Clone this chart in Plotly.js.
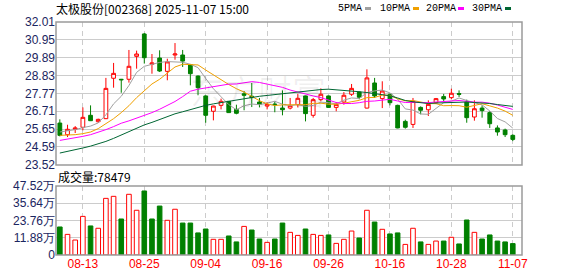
<!DOCTYPE html>
<html><head><meta charset="utf-8">
<script src="https://cdn.plot.ly/plotly-3.0.1.min.js"></script>
<style>html,body{margin:0;padding:0;background:#fff;}#c{width:578px;height:276px;}</style>
</head><body><div id="c"></div>
<script>
const dates = ["08-08","08-11","08-12","08-13","08-14","08-15","08-18","08-19","08-20","08-21","08-22","08-25","08-26","08-27","08-28","08-29",
"09-01","09-02","09-03","09-04","09-05","09-08","09-09","09-10","09-11","09-12","09-15","09-16","09-17","09-18","09-19","09-22","09-23","09-24","09-25","09-26","09-29","09-30",
"10-09","10-10","10-13","10-14","10-15","10-16","10-17","10-20","10-21","10-22","10-23","10-24","10-27","10-28","10-29","10-30","10-31",
"11-03","11-04","11-05","11-06","11-07"];
const openP = [26.01,25.32,25.64,25.76,26.47,26.09,26.27,28.67,28.61,28.61,29.97,31.30,29.50,29.87,29.08,30.05,30.05,29.48,28.80,27.62,26.71,27.06,27.30,26.82,27.75,27.60,27.26,27.02,27.14,26.90,26.90,27.10,27.62,26.47,27.40,27.62,26.94,27.26,27.72,27.85,26.90,28.39,27.46,27.72,27.06,26.11,25.93,26.94,26.80,27.22,27.58,27.52,27.76,27.26,26.37,26.90,26.63,25.72,25.60,25.28];
const highP = [26.23,25.91,25.83,26.94,27.06,26.27,28.69,29.58,28.63,30.35,30.31,31.36,30.11,30.33,29.83,30.76,30.35,29.52,28.84,27.66,27.04,27.46,27.32,27.10,27.91,28.39,27.50,27.26,27.28,27.95,27.50,27.75,27.64,27.50,28.07,27.64,27.26,27.85,28.33,27.89,29.20,28.69,28.49,27.76,27.10,26.21,27.50,27.00,27.36,27.50,27.74,28.05,27.95,27.40,27.36,27.06,26.71,25.87,25.68,25.34];
const lowP = [25.22,25.18,25.42,25.58,26.13,26.03,26.25,28.11,27.81,28.41,29.24,29.54,28.94,29.04,28.55,29.77,29.34,28.25,27.66,26.03,26.17,26.82,26.61,26.53,26.77,26.96,26.94,26.82,26.65,26.47,26.82,26.94,26.11,26.33,27.30,26.92,26.71,27.10,27.62,27.42,26.88,27.50,26.90,27.06,25.70,25.68,25.72,26.53,26.43,27.16,27.26,27.42,27.56,26.03,26.15,26.33,25.72,25.26,25.18,24.94];
const closeP = [25.28,25.64,25.72,26.35,26.15,26.23,28.07,28.96,28.58,29.38,30.11,29.89,29.58,29.10,29.64,30.11,29.69,28.94,28.11,26.47,27.02,27.30,26.63,26.59,27.66,27.52,27.12,27.12,27.10,26.80,27.06,27.48,26.57,27.40,27.72,26.94,27.12,27.66,28.07,27.54,28.69,27.62,27.91,27.22,25.72,25.76,27.30,26.77,27.12,27.46,27.44,27.78,27.72,26.33,26.86,26.75,25.97,25.48,25.32,25.04];
const ma5 = [25.48,25.54,25.62,25.74,25.83,26.02,26.50,27.15,27.60,28.24,29.02,29.38,29.51,29.61,29.66,29.66,29.62,29.50,29.30,28.66,28.05,27.57,27.11,26.80,27.04,27.14,27.10,27.20,27.30,27.13,27.04,27.11,27.00,27.06,27.25,27.22,27.15,27.37,27.50,27.47,27.82,27.92,27.97,27.80,27.43,26.85,26.78,26.55,26.53,26.88,27.22,27.31,27.50,27.35,27.23,27.09,26.73,26.28,26.08,25.71];
const ma10 = [25.28,25.28,25.32,25.38,25.48,25.68,25.97,26.27,26.63,27.04,27.52,27.94,28.33,28.61,28.95,29.34,29.50,29.50,29.46,29.16,28.86,28.60,28.30,28.05,27.85,27.59,27.34,27.15,27.05,27.09,27.09,27.11,27.10,27.18,27.19,27.13,27.13,27.19,27.28,27.36,27.52,27.53,27.67,27.65,27.45,27.33,27.35,27.26,27.17,27.16,27.04,27.05,27.04,26.95,27.06,27.16,27.03,26.90,26.72,26.47];
const ma20 = [24.98,25.05,25.13,25.22,25.32,25.45,25.62,25.80,26.00,26.14,26.30,26.45,26.63,26.83,27.06,27.29,27.58,27.90,28.02,28.10,28.19,28.27,28.32,28.33,28.40,28.47,28.42,28.33,28.25,28.13,27.97,27.85,27.70,27.62,27.52,27.36,27.23,27.17,27.17,27.22,27.30,27.32,27.38,27.42,27.32,27.23,27.24,27.22,27.22,27.26,27.28,27.29,27.35,27.30,27.25,27.25,27.19,27.08,26.94,26.82];
const ma30 = [24.23,24.32,24.42,24.53,24.64,24.77,24.92,25.10,25.30,25.50,25.72,25.90,26.05,26.22,26.40,26.56,26.68,26.82,26.95,27.06,27.15,27.23,27.30,27.38,27.46,27.54,27.60,27.65,27.70,27.76,27.82,27.88,27.91,27.95,28.00,28.02,27.99,27.95,27.93,27.87,27.82,27.75,27.69,27.63,27.50,27.35,27.27,27.20,27.17,27.20,27.22,27.23,27.27,27.26,27.23,27.21,27.17,27.11,27.05,27.00];
const volume = [19.3,14.2,10.3,26.6,20.0,18.4,39.0,40.4,24.8,41.8,30.8,44.1,24.8,33.7,23.9,31.5,22.0,22.0,15.2,17.9,10.8,10.8,13.1,9.0,19.7,17.2,11.0,8.7,11.0,22.0,15.6,13.5,17.9,14.2,13.5,13.8,8.0,10.8,16.5,11.7,30.8,22.7,17.7,14.5,15.2,7.3,18.4,9.0,7.3,9.6,9.6,12.2,7.6,24.1,15.6,11.0,13.8,9.6,9.0,7.85];
const volUp = [0,1,1,1,0,1,1,1,0,1,1,0,0,0,1,1,0,0,0,0,1,1,0,0,1,0,0,1,0,0,1,1,0,1,1,0,1,1,1,0,1,0,1,0,0,1,1,0,1,1,0,1,0,0,1,0,0,0,0,0];
const tickDates = ["08-13","08-25","09-04","09-16","09-26","10-16","10-28","11-07"];
const priceTicks = [23.52,24.59,25.65,26.71,27.77,28.83,29.89,30.95,32.01];
const volTicks = [0,11.88,23.76,35.64,47.52];
const volTickText = ["0","11.88万","23.76万","35.64万","47.52万"];
const maNames = ["5PMA","10PMA","20PMA","30PMA"];
const maColors = ["#a0a0a0","#f0a000","#ff00ff","#006633"];
const titleText = "太极股份[002368] 2025-11-07 15:00";
const volLabel = "成交量:78479";

const RED = "#ff0000", GREEN = "#008000";
const L = 56, R = 522, T = 22, B = 255;
const pw = R - L, ph = B - T;
const px = v => (v - L) / pw;
const py = v => (B - v) / ph;

const traces = [];
traces.push({
  type: "candlestick", x: dates, open: openP, high: highP, low: lowP, close: closeP,
  xaxis: "x", yaxis: "y", whiskerwidth: 0,
  increasing: {line: {color: RED, width: 1}, fillcolor: "#ffffff"},
  decreasing: {line: {color: GREEN, width: 1}, fillcolor: GREEN},
  hoverinfo: "skip", showlegend: false
});
[ma5, ma10, ma20, ma30].forEach((arr, k) => {
  traces.push({type: "scatter", mode: "lines", x: dates, y: arr, xaxis: "x", yaxis: "y",
    line: {color: maColors[k], width: 1}, hoverinfo: "skip", showlegend: false});
});
traces.push({
  type: "bar", x: dates, y: volume, xaxis: "x2", yaxis: "y2", width: 0.6,
  marker: {color: volUp.map(u => u ? "#ffffff" : GREEN), line: {color: volUp.map(u => u ? RED : GREEN), width: 1}},
  hoverinfo: "skip", showlegend: false
});

const tickFont = {family: "Liberation Sans, Arial, sans-serif", size: 12, color: "#1b2560"};
const xCommon = {
  type: "category", categoryorder: "array", categoryarray: dates,
  range: [-0.5, 60.2], tickvals: tickDates, ticktext: tickDates,
  showgrid: true, gridcolor: "#cccccc", griddash: "5px,4px", gridwidth: 1,
  zeroline: false, showline: false, ticks: "", fixedrange: true
};
const layout = {
  width: 578, height: 276, autosize: false,
  margin: {l: L, r: 578 - R, t: T, b: 276 - B, pad: 0},
  paper_bgcolor: "#ffffff", plot_bgcolor: "#ffffff",
  showlegend: false, bargap: 0,
  xaxis: Object.assign({}, xCommon, {anchor: "y", showticklabels: false, rangeslider: {visible: false}}),
  xaxis2: Object.assign({}, xCommon, {anchor: "y2", matches: "x", showticklabels: true,
    tickfont: {family: "Liberation Sans, Arial, sans-serif", size: 12, color: RED}}),
  yaxis: {domain: [py(165), 1], range: [23.52, 32.01], tickvals: priceTicks, ticktext: priceTicks.map(v => v.toFixed(2)),
    showgrid: true, gridcolor: "#cccccc", zeroline: false, showline: false, ticks: "", tickfont: tickFont, fixedrange: true},
  yaxis2: {domain: [0, py(186)], range: [0, 47.52], tickvals: volTicks, ticktext: volTickText,
    showgrid: true, gridcolor: "#cccccc", zeroline: false, showline: false, ticks: "",
    tickfont: {family: "Liberation Sans Narrow, Arial Narrow, Liberation Sans, sans-serif", size: 12, color: "#1b2560"}, fixedrange: true},
  shapes: [
    {type: "rect", xref: "x domain", yref: "y domain", x0: 0, x1: 1, y0: 0, y1: 1, line: {color: "#9a9a9a", width: 1.5}},
    {type: "rect", xref: "x2 domain", yref: "y2 domain", x0: 0, x1: 1, y0: 0, y1: 1, line: {color: "#9a9a9a", width: 1.5}}
  ],
  annotations: [
    {text: "东方财富", xref: "paper", yref: "paper", x: px(258), y: py(90), xanchor: "center", yanchor: "middle",
      showarrow: false, font: {family: "Noto Sans CJK SC", size: 34, color: "rgba(0,0,0,0.06)"}},
    {text: titleText, xref: "paper", yref: "paper", x: px(54), y: py(9), xanchor: "left", yanchor: "middle",
      showarrow: false, font: {family: "Noto Sans CJK SC, sans-serif", size: 12, color: "#000000"}},
    {text: volLabel, xref: "paper", yref: "paper", x: px(56), y: py(176), xanchor: "left", yanchor: "middle",
      showarrow: false, font: {family: "Noto Sans CJK SC, sans-serif", size: 12, color: "#000000"}}
  ]
};
const legX = [336, 378, 424, 470];
const legM = [365, 413, 458, 505];
maNames.forEach((n, k) => {
  layout.annotations.push({text: n, xref: "paper", yref: "paper", x: px(legX[k]), y: py(9), xanchor: "left", yanchor: "middle",
    showarrow: false, font: {family: "Liberation Mono, monospace", size: 10, color: "#000000"}});
  layout.shapes.push({type: "rect", xref: "paper", yref: "paper", x0: px(legM[k]), x1: px(legM[k] + 6),
    y0: py(10), y1: py(7), fillcolor: maColors[k], line: {width: 0}});
});
Plotly.newPlot("c", traces, layout, {displayModeBar: false, staticPlot: true});
</script></body></html>
